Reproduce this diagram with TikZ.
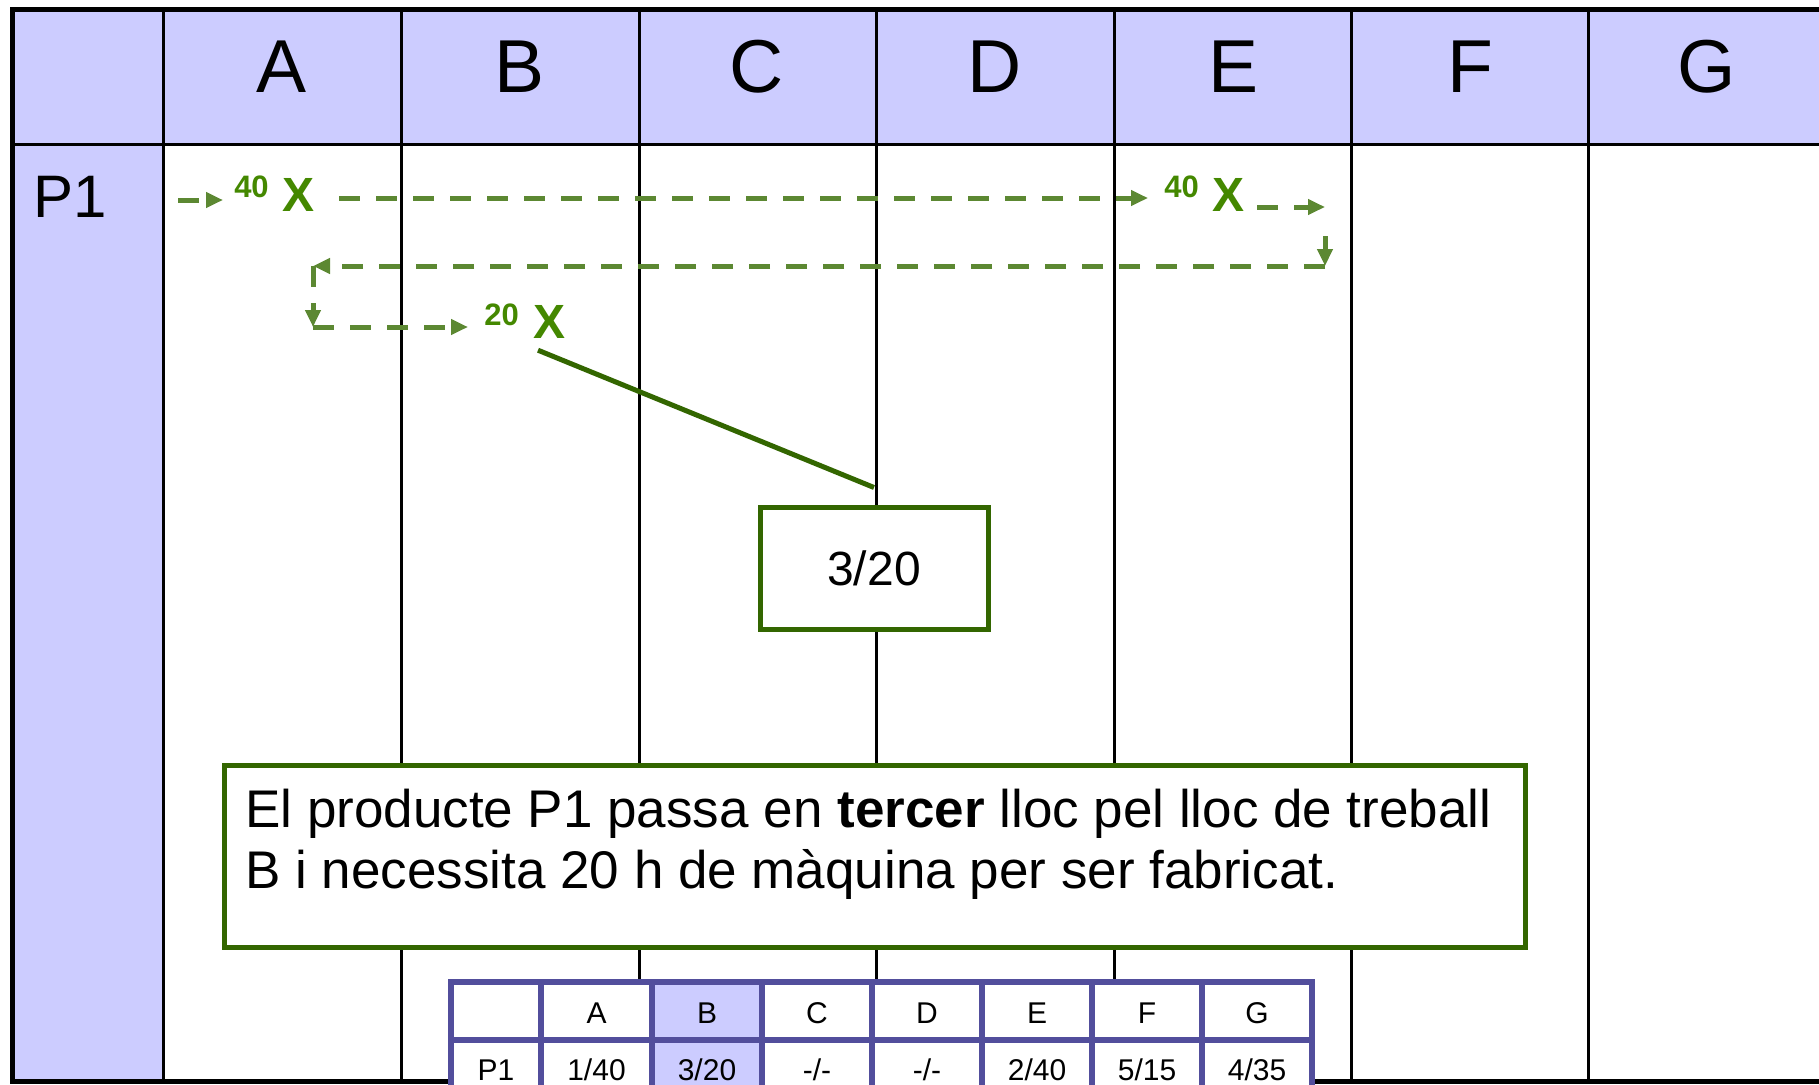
\documentclass[tikz,border=0pt]{standalone}
\usepackage{fontspec}
\setmainfont{Liberation Sans}
\usetikzlibrary{arrows.meta}
\definecolor{hdr}{RGB}{204,204,255}
\definecolor{dashgreen}{RGB}{92,136,50}
\definecolor{xgreen}{RGB}{68,136,0}
\definecolor{boxgreen}{RGB}{51,102,0}
\definecolor{tblue}{RGB}{82,78,156}
\begin{document}
\begin{tikzpicture}[x=1pt,y=-1pt,
  flow/.style={draw=dashgreen, line width=5pt, dash pattern=on 21pt off 16pt,
     -{Triangle[length=17pt,width=15pt]}},
  hdrtxt/.style={anchor=base, inner sep=0pt, font=\fontsize{75}{75}\selectfont},
  numtxt/.style={anchor=base, inner sep=0pt, text=xgreen, font=\bfseries\fontsize{31}{31}\selectfont},
  xtxt/.style={anchor=base, inner sep=0pt, text=xgreen, font=\bfseries\fontsize{48}{48}\selectfont},
  gbox/.style={draw=boxgreen, line width=5pt, fill=white, inner sep=0pt},
  bigtxt/.style={anchor=base west, inner sep=0pt, font=\fontsize{53}{60}\selectfont},
  tbtxt/.style={anchor=base, inner sep=0pt, font=\fontsize{30}{30}\selectfont},
  thin/.style={draw=black, line width=3pt},
  thick/.style={draw=black, line width=5pt},
  tline/.style={draw=tblue, line width=6pt}
]
\clip (0,0) rectangle (1819,1084);
\fill[white] (0,0) rectangle (1819,1084);
% fills
\fill[hdr] (12,9) rectangle (1819,144);
\fill[hdr] (12,144) rectangle (163,1081);
% grid
\foreach \x in {163,401,639,876,1114,1351,1588} \draw[thin] (\x,9) -- (\x,1081);
\draw[thin] (12,144) -- (1819,144);
\draw[thick] (12.5,7) -- (12.5,1084);
\draw[thick] (10,9.5) -- (1819,9.5);
\draw[thick] (10,1081) -- (1819,1081);
% header text
\node[hdrtxt] (hA) at (282,92) {A};
\node[hdrtxt] (hB) at (520,92) {B};
\node[hdrtxt] (hC) at (757,92) {C};
\node[hdrtxt] (hD) at (995,92) {D};
\node[hdrtxt] (hE) at (1233,92) {E};
\node[hdrtxt] (hF) at (1470,92) {F};
\node[hdrtxt] (hG) at (1707,92) {G};
\node[hdrtxt, anchor=base west, font=\fontsize{60}{60}\selectfont] (p1) at (33,217) {P1};
% marks
\node[numtxt] (n1) at (251.5,197) {40};
\node[xtxt] (x1) at (299,211) {X};
\node[numtxt] (n2) at (1181.5,197) {40};
\node[xtxt] (x2) at (1228,211) {X};
\node[numtxt] (n3) at (501.5,325) {20};
\node[xtxt] (x3) at (549,338) {X};
% flow coordinates
\coordinate (s1) at (178,200);
\coordinate (e1) at (223,200);
\coordinate (s2) at (339,198);
\coordinate (e2) at (1148,198);
\coordinate (s3) at (1257,207);
\coordinate (e3) at (1325,207);
\coordinate (s4) at (1325,236);
\coordinate (c4) at (1325,266);
\coordinate (c5) at (313,266);
\coordinate (c6) at (313,327);
\coordinate (e7) at (468,327);
\draw[flow] (s1) -- (e1);
\draw[flow] (s2) -- (e2);
\draw[flow] (s3) -- (e3);
\draw[flow] (s4) -- (c4);
\draw[flow] (c4) -- (c5);
\draw[flow] (c5) -- (c6);
\draw[flow] (c6) -- (e7);
% callout box
\node[gbox, minimum width=228pt, minimum height=122pt, font=\fontsize{48}{48}\selectfont] (b320) at (874,568) {3/20};
\draw[draw=boxgreen, line width=5pt] ([xshift=-11pt,yshift=-12pt]x3.south) -- ([yshift=17pt]b320.north);
% text box
\node[gbox, minimum width=1301pt, minimum height=182pt] (tbox) at (874.5,856) {};
\node[bigtxt] (t1) at (245,827) {El producte P1 passa en \textbf{tercer} lloc pel lloc de treball};
\node[bigtxt] (t2) at (245,888) {B i necessita 20 h de màquina per ser fabricat.};
% bottom table
\fill[white] (451,982) rectangle (1312,1101);
\fill[hdr] (652,982) rectangle (762,1101);
\foreach \x in {451,541,652,762,872,982,1092,1202,1312} \draw[tline] (\x,979) -- (\x,1104);
\foreach \y in {982,1040,1101} \draw[tline] (448,\y) -- (1315,\y);
\node[tbtxt] (tA) at (596.5,1023) {A};
\node[tbtxt] (tB) at (707,1023) {B};
\node[tbtxt] (tC) at (817,1023) {C};
\node[tbtxt] (tD) at (927,1023) {D};
\node[tbtxt] (tE) at (1037,1023) {E};
\node[tbtxt] (tF) at (1147,1023) {F};
\node[tbtxt] (tG) at (1257,1023) {G};
\node[tbtxt] (rP) at (496,1080) {P1};
\node[tbtxt] (rA) at (596.5,1080) {1/40};
\node[tbtxt] (rB) at (707,1080) {3/20};
\node[tbtxt] (rC) at (817,1080) {-/-};
\node[tbtxt] (rD) at (927,1080) {-/-};
\node[tbtxt] (rE) at (1037,1080) {2/40};
\node[tbtxt] (rF) at (1147,1080) {5/15};
\node[tbtxt] (rG) at (1257,1080) {4/35};
\end{tikzpicture}
\end{document}
